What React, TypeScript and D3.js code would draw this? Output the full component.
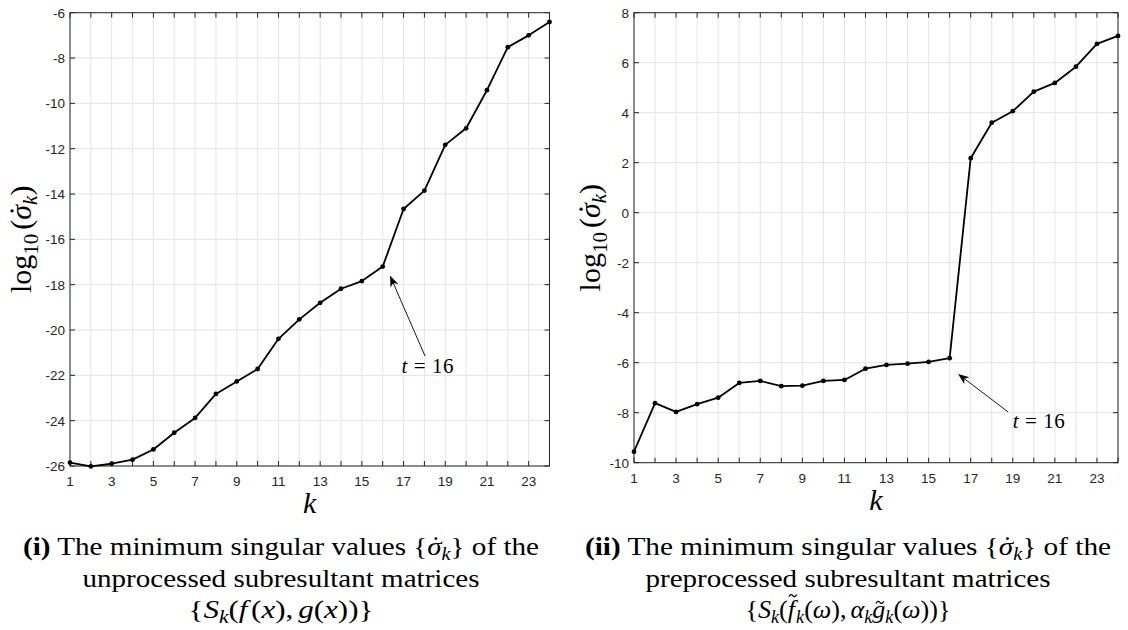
import React, { useLayoutEffect, useRef, useState } from 'react';
import * as d3 from 'd3';

// ---------- data ----------
const kValues = [1, 2, 3, 4, 5, 6, 7, 8, 9, 10, 11, 12, 13, 14, 15, 16, 17, 18, 19, 20, 21, 22, 23, 24];
const xTickLabels = [1, 3, 5, 7, 9, 11, 13, 15, 17, 19, 21, 23];
const unprocessedLogSigma = [
  -25.85, -26.02, -25.9, -25.72, -25.27, -24.53, -23.88, -22.82, -22.27, -21.72, -20.39, -19.53,
  -18.8, -18.18, -17.84, -17.2, -14.66, -13.85, -11.83, -11.1, -9.42, -7.52, -7.0, -6.41,
];
const preprocessedLogSigma = [
  -9.56, -7.62, -7.97, -7.66, -7.4, -6.81, -6.73, -6.94, -6.92, -6.73, -6.69, -6.24,
  -6.09, -6.04, -5.97, -5.82, 2.18, 3.6, 4.06, 4.84, 5.19, 5.84, 6.75, 7.07,
];
const leftYTicks = [-26, -24, -22, -20, -18, -16, -14, -12, -10, -8, -6];
const rightYTicks = [-10, -8, -6, -4, -2, 0, 2, 4, 6, 8];

const SERIF = '"Liberation Serif", "DejaVu Serif", serif';
const SANS = '"Liberation Sans", Arial, sans-serif';
const AX = '#262626';
const GRID = '#e4e4e4';

type Panel = {
  values: number[];
  yTicks: number[];
  yDomain: [number, number];
  xRange: [number, number];
  yRange: [number, number];
  yLabelX: number;
  arrow: { head: [number, number]; tail: [number, number]; text: [number, number] };
  captionCenter: number;
  label: string;
  line2: string;
  line3: 'a' | 'b';
  widths: [number, number, number];
};

const panels: Panel[] = [
  {
    values: unprocessedLogSigma,
    yTicks: leftYTicks,
    yDomain: [-26, -6],
    xRange: [70, 549.5],
    yRange: [466, 12.7],
    yLabelX: 31,
    arrow: { head: [16.35, -17.6], tail: [18.03, -21.15], text: [16.9, -21.9] },
    captionCenter: 281,
    label: '(i)',
    line2: 'unprocessed subresultant matrices',
    line3: 'a',
    widths: [516, 397, 185],
  },
  {
    values: preprocessedLogSigma,
    yTicks: rightYTicks,
    yDomain: [-10, 8],
    xRange: [634, 1118],
    yRange: [462.7, 12.7],
    yLabelX: 600,
    arrow: { head: [16.4, -6.45], tail: [18.78, -7.97], text: [19.0, -8.62] },
    captionCenter: 848,
    label: '(ii)',
    line2: 'preprocessed subresultant matrices',
    line3: 'b',
    widths: [526, 405, 205],
  },
];

type Accent = { ch: string; nth?: number; kind: 'dot' | 'tilde' | 'tildeHigh' };
type Mark = { kind: string; cx: number; cy: number };

// Text with accents (dot / tilde) drawn as shapes over measured glyphs
function AccentText({
  accents,
  fs,
  transform,
  children,
  ...rest
}: {
  accents: Accent[];
  fs: number;
  transform?: string;
  children: React.ReactNode;
  [key: string]: any;
}) {
  const ref = useRef<SVGTextElement>(null);
  const [marks, setMarks] = useState<Mark[]>([]);
  useLayoutEffect(() => {
    const el = ref.current;
    if (!el) return;
    const s = el.textContent || '';
    const out: Mark[] = [];
    accents.forEach((a) => {
      let idx = -1;
      for (let n = 0; n <= (a.nth || 0); n++) idx = s.indexOf(a.ch, idx + 1);
      if (idx < 0) return;
      try {
        const p = el.getStartPositionOfChar(idx);
        const e = el.getExtentOfChar(idx);
        if (a.kind === 'dot') out.push({ kind: 'dot', cx: e.x + e.width * 0.6, cy: p.y - fs * 0.63 });
        else if (a.kind === 'tildeHigh') out.push({ kind: 'tilde', cx: e.x + e.width * 0.68, cy: p.y - fs * 0.86 });
        else out.push({ kind: 'tilde', cx: e.x + e.width * 0.58, cy: p.y - fs * 0.6 });
      } catch (err) {
        /* ignore */
      }
    });
    setMarks(out);
  }, []);
  const w = fs * 0.3;
  const h = fs * 0.045;
  return (
    <g transform={transform}>
      <text ref={ref} {...rest} fontSize={fs}>
        {children}
      </text>
      {marks.map((m, i) =>
        m.kind === 'dot' ? (
          <circle key={i} cx={m.cx} cy={m.cy} r={fs * 0.055} fill="#000" />
        ) : (
          <path
            key={i}
            d={`M${m.cx - w / 2},${m.cy + h} Q${m.cx - w / 4},${m.cy - 2.2 * h} ${m.cx},${m.cy} T${m.cx + w / 2},${m.cy - h}`}
            fill="none"
            stroke="#000"
            strokeWidth={fs * 0.045}
          />
        )
      )}
    </g>
  );
}

function PanelView({ p }: { p: Panel }) {
  const x = d3.scaleLinear().domain([1, 24]).range(p.xRange);
  const y = d3.scaleLinear().domain(p.yDomain).range(p.yRange);
  const [x0, x1] = p.xRange;
  const [yb, yt] = p.yRange;
  const lineGen = d3
    .line<number>()
    .x((_, i) => x(kValues[i]))
    .y((v) => y(v));
  const tickLen = 5;

  const hx = x(p.arrow.head[0]);
  const hy = y(p.arrow.head[1]);
  const tx = x(p.arrow.tail[0]);
  const ty = y(p.arrow.tail[1]);
  const ang = Math.atan2(hy - ty, hx - tx);
  const hl = 11;
  const hw = 4.2;
  const bx = hx - hl * Math.cos(ang);
  const by = hy - hl * Math.sin(ang);
  const nx = -Math.sin(ang);
  const ny = Math.cos(ang);
  const ix = hx - hl * 0.72 * Math.cos(ang);
  const iy = hy - hl * 0.72 * Math.sin(ang);
  const head = `${hx},${hy} ${bx + nx * hw},${by + ny * hw} ${ix},${iy} ${bx - nx * hw},${by - ny * hw}`;

  const midY = (yb + yt) / 2;
  const cx = (x0 + x1) / 2;
  const yl = 30;
  const ys = 21;
  const cf = 26;
  const cs = 18;

  return (
    <g>
      {/* grid */}
      {kValues.map((k) => (
        <line key={'gx' + k} x1={x(k)} x2={x(k)} y1={yt} y2={yb} stroke={GRID} strokeWidth={1} />
      ))}
      {p.yTicks.map((t) => (
        <line key={'gy' + t} x1={x0} x2={x1} y1={y(t)} y2={y(t)} stroke={GRID} strokeWidth={1} />
      ))}
      {/* box */}
      <rect x={x0} y={yt} width={x1 - x0} height={yb - yt} fill="none" stroke={AX} strokeWidth={1} />
      {/* ticks */}
      {kValues.map((k) => (
        <g key={'tx' + k}>
          <line x1={x(k)} x2={x(k)} y1={yb} y2={yb - tickLen} stroke={AX} />
          <line x1={x(k)} x2={x(k)} y1={yt} y2={yt + tickLen} stroke={AX} />
        </g>
      ))}
      {p.yTicks.map((t) => (
        <g key={'ty' + t}>
          <line x1={x0} x2={x0 + tickLen} y1={y(t)} y2={y(t)} stroke={AX} />
          <line x1={x1} x2={x1 - tickLen} y1={y(t)} y2={y(t)} stroke={AX} />
        </g>
      ))}
      {/* tick labels */}
      {xTickLabels.map((k) => (
        <text key={'lx' + k} x={x(k)} y={yb + 20} textAnchor="middle" fontFamily={SANS} fontSize={13.5} fill={AX}>
          {k}
        </text>
      ))}
      {p.yTicks.map((t) => (
        <text key={'ly' + t} x={x0 - 5} y={y(t) + 5} textAnchor="end" fontFamily={SANS} fontSize={13.5} fill={AX}>
          {t}
        </text>
      ))}
      {/* data */}
      <path d={lineGen(p.values) || ''} fill="none" stroke="#000" strokeWidth={1.8} strokeLinejoin="round" />
      {p.values.map((v, i) => (
        <circle key={'m' + i} cx={x(kValues[i])} cy={y(v)} r={2.4} fill="#000" />
      ))}
      {/* annotation */}
      <line x1={tx} y1={ty} x2={ix} y2={iy} stroke="#000" strokeWidth={0.9} />
      <polygon points={head} fill="#000" />
      <text x={x(p.arrow.text[0])} y={y(p.arrow.text[1])} fontFamily={SERIF} fontSize={21} fill="#000" textLength={52}>
        <tspan fontStyle="italic">t</tspan>
        <tspan> = 16</tspan>
      </text>
      {/* axis labels */}
      <text x={cx} y={yb + 47} textAnchor="middle" fontFamily={SERIF} fontStyle="italic" fontSize={30} fill="#000">
        k
      </text>
      <AccentText
        accents={[{ ch: 'σ', kind: 'dot' }]}
        fs={yl}
        transform={`translate(${p.yLabelX},${midY}) rotate(-90)`}
        textAnchor="middle"
        fontFamily={SERIF}
        fill="#000"
      >
        <tspan>log</tspan>
        <tspan fontSize={ys} dy={7}>10</tspan>
        <tspan dy={-7} dx={4}>(</tspan>
        <tspan fontStyle="italic">σ</tspan>
        <tspan fontStyle="italic" fontSize={ys} dy={6}>k</tspan>
        <tspan dy={-6}>)</tspan>
      </AccentText>
      {/* caption */}
      <AccentText
        accents={[{ ch: 'σ', kind: 'dot' }]}
        fs={cf}
        x={p.captionCenter}
        y={555}
        textAnchor="middle"
        fontFamily={SERIF}
        fill="#000"
        textLength={p.widths[0]}
        lengthAdjust="spacingAndGlyphs"
      >
        <tspan fontWeight="bold">{p.label}</tspan>
        <tspan> The minimum singular values {'{'}</tspan>
        <tspan fontStyle="italic">σ</tspan>
        <tspan fontStyle="italic" fontSize={cs} dy={5}>k</tspan>
        <tspan dy={-5}>{'}'} of the</tspan>
      </AccentText>
      <text
        x={p.captionCenter}
        y={587}
        textAnchor="middle"
        fontFamily={SERIF}
        fontSize={cf}
        fill="#000"
        textLength={p.widths[1]}
        lengthAdjust="spacingAndGlyphs"
      >
        {p.line2}
      </text>
      {p.line3 === 'a' ? (
        <text
          x={p.captionCenter}
          y={618}
          textAnchor="middle"
          fontFamily={SERIF}
          fontSize={cf}
          fill="#000"
          textLength={p.widths[2]}
          lengthAdjust="spacingAndGlyphs"
        >
          <tspan>{'{'}</tspan>
          <tspan fontStyle="italic">S</tspan>
          <tspan fontStyle="italic" fontSize={cs} dy={5}>k</tspan>
          <tspan dy={-5}>(</tspan>
          <tspan fontStyle="italic">f</tspan>
          <tspan dx={3}>(</tspan>
          <tspan fontStyle="italic">x</tspan>
          <tspan>),</tspan>
          <tspan fontStyle="italic" dx={4}>g</tspan>
          <tspan>(</tspan>
          <tspan fontStyle="italic">x</tspan>
          <tspan>)){'}'}</tspan>
        </text>
      ) : (
        <AccentText
          accents={[
            { ch: 'f', kind: 'tildeHigh' },
            { ch: 'g', kind: 'tilde' },
          ]}
          fs={cf}
          x={p.captionCenter}
          y={618}
          textAnchor="middle"
          fontFamily={SERIF}
          fill="#000"
          textLength={p.widths[2]}
          lengthAdjust="spacingAndGlyphs"
        >
          <tspan>{'{'}</tspan>
          <tspan fontStyle="italic">S</tspan>
          <tspan fontStyle="italic" fontSize={cs} dy={5}>k</tspan>
          <tspan dy={-5}>(</tspan>
          <tspan fontStyle="italic">f</tspan>
          <tspan fontStyle="italic" fontSize={cs} dx={1} dy={5}>k</tspan>
          <tspan dy={-5}>(</tspan>
          <tspan fontStyle="italic">ω</tspan>
          <tspan>),</tspan>
          <tspan fontStyle="italic" dx={4}>α</tspan>
          <tspan fontStyle="italic" fontSize={cs} dy={5}>k</tspan>
          <tspan fontStyle="italic" dy={-5}>g</tspan>
          <tspan fontStyle="italic" fontSize={cs} dy={5}>k</tspan>
          <tspan dy={-5}>(</tspan>
          <tspan fontStyle="italic">ω</tspan>
          <tspan>)){'}'}</tspan>
        </AccentText>
      )}
    </g>
  );
}

export default function App() {
  return (
    <svg
      width={1128}
      height={630}
      viewBox="0 0 1128 630"
      style={{ position: 'absolute', left: 0, top: 0, background: '#fff' }}
    >
      <rect x={0} y={0} width={1128} height={630} fill="#fff" />
      {panels.map((p, i) => (
        <PanelView key={i} p={p} />
      ))}
    </svg>
  );
}
